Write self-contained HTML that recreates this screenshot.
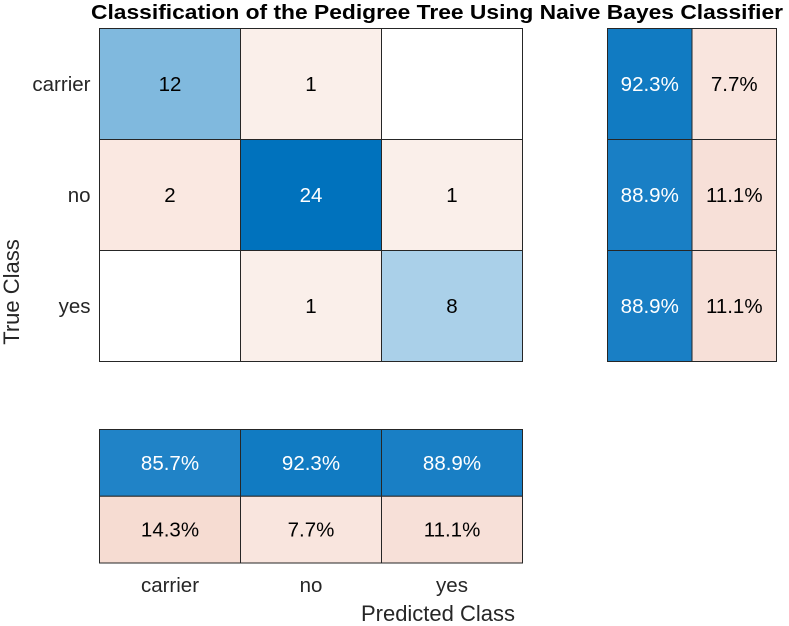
<!DOCTYPE html>
<html><head><meta charset="utf-8"><style>
html,body{margin:0;padding:0;background:#fff;}
svg{display:block;font-family:"Liberation Sans",Arial,sans-serif;}
</style></head><body>
<svg id="c" width="789" height="626" viewBox="0 0 789 626">
<text x="437" y="19" text-anchor="middle" font-size="20" font-weight="bold" fill="#000" textLength="692" lengthAdjust="spacingAndGlyphs">Classification of the Pedigree Tree Using Naive Bayes Classifier</text>
<text x="19" y="292" text-anchor="middle" font-size="22" fill="#262626" transform="rotate(-90 19 292)">True Class</text>
<text x="438" y="621" text-anchor="middle" font-size="22" fill="#262626">Predicted Class</text>
</svg>
<script>
const classes = ["carrier","no","yes"];
const counts = [[12,1,0],[2,24,1],[0,1,8]];
const rowCorrect = [92.3,88.9,88.9];
const rowWrong = [7.7,11.1,11.1];
const colCorrect = [85.7,92.3,88.9];
const colWrong = [14.3,7.7,11.1];

const svg = document.getElementById('c');
const NS = 'http://www.w3.org/2000/svg';
const mx = 99.5, my = 28.5, cw = 141, ch = 111;
const rsx = 607.5, rsw = 84.5;
const csy = 429.5, csh = 66.75;
const maxCount = Math.max(...counts.flat());

function mix(a,b,t){return 'rgb('+a.map((v,i)=>Math.round(v+(b[i]-v)*t)).join(',')+')';}
function diagColor(v){return mix([255,255,255],[0,114,189],v/maxCount);}
function offColor(v){return v===0?'#ffffff':mix([250,239,234],[250,232,225],Math.min(1,(v-1)/1));}
function pctBlue(p){return mix([0,114,189],[45,138,203],(100-p)/20);}
function pctRed(p){return mix([252,240,236],[246,220,210],Math.min(1,p/14.3));}

function cell(x,y,w,h,fill,label,txtColor,name){
  const r=document.createElementNS(NS,'rect');
  r.setAttribute('x',x);r.setAttribute('y',y);r.setAttribute('width',w);r.setAttribute('height',h);
  r.setAttribute('fill',fill);r.setAttribute('stroke','#262626');r.setAttribute('stroke-width','1');
  
  
  svg.appendChild(r);
  if(label!==''){
    const t=document.createElementNS(NS,'text');
    t.setAttribute('x',x+w/2);t.setAttribute('y',y+h/2+7);t.setAttribute('text-anchor','middle');
    t.setAttribute('font-size','20.5');t.setAttribute('fill',txtColor);t.textContent=label;
    
    
    svg.appendChild(t);
  }
}
function label(x,y,txt,anchor,name){
  const t=document.createElementNS(NS,'text');
  t.setAttribute('x',x);t.setAttribute('y',y);t.setAttribute('text-anchor',anchor);
  t.setAttribute('font-size','20.5');t.setAttribute('fill','#262626');t.textContent=txt;
  
  
  svg.appendChild(t);
}
for(let i=0;i<3;i++){
  for(let j=0;j<3;j++){
    const v=counts[i][j];
    const fill=i===j?diagColor(v):offColor(v);
    const tc=(i===j && v/maxCount>0.6)?'#ffffff':'#000000';
    cell(mx+j*cw,my+i*ch,cw,ch,fill,v===0?'':String(v),tc,'cell-'+classes[i]+'-'+classes[j]);
  }
  cell(rsx,my+i*ch,rsw,ch,pctBlue(rowCorrect[i]),rowCorrect[i].toFixed(1)+'%','#ffffff','row-summary-correct-'+classes[i]);
  cell(rsx+rsw,my+i*ch,rsw,ch,pctRed(rowWrong[i]),rowWrong[i].toFixed(1)+'%','#000000','row-summary-wrong-'+classes[i]);
  label(mx-9,my+i*ch+ch/2+7,classes[i],'end','y-tick-'+classes[i]);
  cell(mx+i*cw,csy,cw,csh,pctBlue(colCorrect[i]),colCorrect[i].toFixed(1)+'%','#ffffff','col-summary-correct-'+classes[i]);
  cell(mx+i*cw,csy+csh,cw,csh,pctRed(colWrong[i]),colWrong[i].toFixed(1)+'%','#000000','col-summary-wrong-'+classes[i]);
  label(mx+i*cw+cw/2,592,classes[i],'middle','x-tick-'+classes[i]);
}
</script>
</body></html>
